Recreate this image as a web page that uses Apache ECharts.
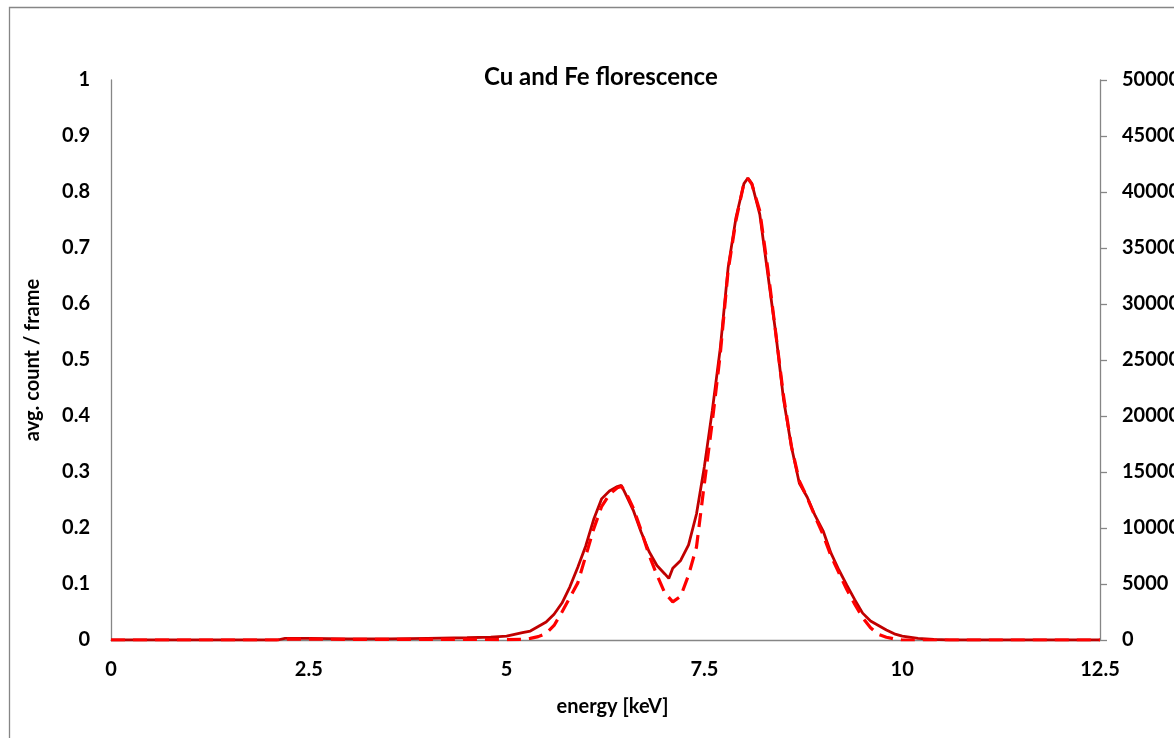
<!DOCTYPE html>
<html>
<head>
<meta charset="utf-8">
<script src="https://cdn.jsdelivr.net/npm/echarts@6/dist/echarts.min.js"></script>
<style>
html,body{margin:0;padding:0;background:#fff;}
#chart{width:1174px;height:738px;}
</style>
</head>
<body>
<div id="chart"></div>
<script>
// energy [keV] for the measured (solid) spectrum
const energySolid = [0, 2.1, 2.2, 2.5, 3.0, 3.5, 4.0, 4.5, 4.8, 5.0, 5.1, 5.2, 5.3, 5.4, 5.5, 5.6, 5.7, 5.8, 5.9,
  6.0, 6.1, 6.2, 6.3, 6.4, 6.45, 6.5, 6.6, 6.7, 6.8, 6.9, 7.0, 7.05, 7.1, 7.2, 7.3, 7.4, 7.5, 7.6, 7.7, 7.8, 7.9,
  8.0, 8.05, 8.1, 8.2, 8.3, 8.4, 8.5, 8.6, 8.7, 8.8, 8.9, 9.0, 9.1, 9.2, 9.3, 9.4, 9.5, 9.6, 9.7, 9.8, 9.9,
  10.0, 10.2, 10.4, 10.6, 12.5];
// avg. count / frame (left axis)
const countSolid = [0, 0, 0.003, 0.003, 0.002, 0.002, 0.003, 0.004, 0.005, 0.007, 0.010, 0.013, 0.016, 0.024, 0.032, 0.046, 0.066, 0.095, 0.13,
  0.168, 0.215, 0.252, 0.266, 0.274, 0.276, 0.262, 0.232, 0.193, 0.158, 0.133, 0.118, 0.110, 0.128, 0.142, 0.17, 0.225, 0.31, 0.41, 0.52, 0.665, 0.755,
  0.815, 0.825, 0.815, 0.76, 0.655, 0.55, 0.43, 0.345, 0.28, 0.255, 0.222, 0.195, 0.155, 0.125, 0.098, 0.072, 0.048, 0.034, 0.026, 0.018, 0.011,
  0.007, 0.003, 0.001, 0, 0];

// energy [keV] for the dashed spectrum
const energyDashed = [0, 2.1, 2.2, 3.0, 4.0, 5.0, 5.2, 5.3, 5.4, 5.5, 5.6, 5.7, 5.8, 5.9,
  6.0, 6.1, 6.2, 6.3, 6.4, 6.45, 6.5, 6.6, 6.7, 6.8, 6.9, 7.0, 7.1, 7.2, 7.3, 7.4, 7.5, 7.6, 7.7, 7.8, 7.9,
  8.0, 8.05, 8.1, 8.2, 8.3, 8.4, 8.5, 8.6, 8.7, 8.8, 8.9, 9.0, 9.1, 9.2, 9.3, 9.4, 9.5, 9.6, 9.7, 9.8, 9.9, 10.0, 12.5];
// counts (right axis)
const countDashed = [0, 0, 80, 60, 60, 40, 50, 150, 300, 600, 1300, 2500, 3800, 5100,
  7500, 9900, 11900, 13000, 13600, 13700, 13300, 11800, 9800, 7600, 5800, 4200, 3400, 3900, 5800, 8300, 14000, 19500, 25500, 33000, 37500,
  40800, 41200, 40700, 38300, 33200, 27500, 21800, 17300, 14200, 12700, 11000, 9400, 7500, 6000, 4500, 3200, 2000, 1100, 500, 250, 100, 0, 0];

const xTicks = [0, 2.5, 5, 7.5, 10, 12.5];
const leftTicks = [0, 0.1, 0.2, 0.3, 0.4, 0.5, 0.6, 0.7, 0.8, 0.9, 1];
const rightTicks = [0, 5000, 10000, 15000, 20000, 25000, 30000, 35000, 40000, 45000, 50000];

const pairs = (xs, ys) => xs.map((x, i) => [x, ys[i]]);
const FONT = 'Lato';
const AX = '#868686';
const lbl = {color: '#000', fontFamily: FONT, fontWeight: 'bold', fontSize: 20};

const chart = echarts.init(document.getElementById('chart'), null, {renderer: 'canvas'});
chart.setOption({
  backgroundColor: '#fff',
  animation: false,
  title: {
    text: 'Cu and Fe florescence',
    left: 479, top: 60,
    textStyle: {color: '#000', fontFamily: FONT, fontWeight: 'bold', fontSize: 24}
  },
  graphic: [{
    type: 'rect', left: 7, top: 5, z: -1,
    shape: {width: 1300, height: 900},
    style: {fill: 'none', stroke: AX, lineWidth: 1.3}
  }],
  grid: {left: 111, right: 74, top: 80, bottom: 98, containLabel: false, outerBoundsMode: 'none'},
  xAxis: {
    type: 'value', min: xTicks[0], max: xTicks[xTicks.length - 1], interval: 2.5,
    name: 'energy [keV]', nameLocation: 'middle', nameGap: 57,
    nameTextStyle: Object.assign({}, lbl, {padding: [0, 0, 0, 14]}),
    axisLine: {show: true, lineStyle: {color: AX, width: 1.3}},
    axisTick: {show: false},
    splitLine: {show: false},
    axisLabel: Object.assign({}, lbl, {margin: 20, formatter: v => String(v)})
  },
  yAxis: [{
    type: 'value', min: 0, max: 1, interval: 0.1, position: 'left',
    name: 'avg. count / frame', nameLocation: 'middle', nameGap: 68,
    nameTextStyle: lbl,
    axisLine: {show: true, lineStyle: {color: AX, width: 1.3}},
    axisTick: {show: false},
    splitLine: {show: false},
    axisLabel: Object.assign({}, lbl, {margin: 21, formatter: v => String(Math.round(v * 10) / 10)})
  }, {
    type: 'value', min: 0, max: 50000, interval: 5000, position: 'right',
    axisLine: {show: true, lineStyle: {color: AX, width: 1.3}},
    axisTick: {show: true, inside: false, length: 7, lineStyle: {color: AX, width: 1.3}},
    splitLine: {show: false},
    axisLabel: Object.assign({}, lbl, {margin: 22, formatter: v => String(v)})
  }],
  series: [{
    type: 'line', name: 'avg count', yAxisIndex: 0, z: 2,
    data: pairs(energySolid, countSolid), showSymbol: false, symbol: 'none',
    lineStyle: {color: '#C00000', width: 2.8}
  }, {
    type: 'line', name: 'counts', yAxisIndex: 1, z: 3,
    data: pairs(energyDashed, countDashed), showSymbol: false, symbol: 'none',
    lineStyle: {color: '#FF0000', width: 3.2, type: [14, 8]}
  }]
});
</script>
</body>
</html>
